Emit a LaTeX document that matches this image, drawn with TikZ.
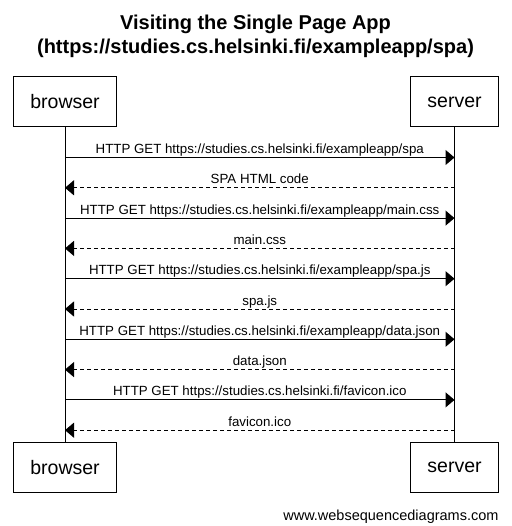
\documentclass[tikz,border=0pt]{standalone}
\usepackage{fontspec}
\setmainfont{Liberation Sans}
\usetikzlibrary{arrows.meta}

\begin{document}
\begin{tikzpicture}[x=1pt,y=-1pt,line width=1pt,
  actor/.style={draw,inner xsep=17pt,minimum height=50pt,font=\fontsize{19.5}{23}\selectfont},
  msg/.style={anchor=base,yshift=4pt,inner sep=0pt,font=\fontsize{13.3}{15}\selectfont},
  req/.style={-{Triangle[length=9pt,width=15pt]}},
  resp/.style={-{Triangle[length=9pt,width=15pt]},dash pattern=on 4pt off 3pt}]
\useasboundingbox (0,0) rectangle (511,526);
\node[anchor=base,font=\bfseries\fontsize{20}{24}\selectfont] (title) at (255.5,29.5) {Visiting the Single Page App};
\node[anchor=base,font=\bfseries\fontsize{20}{24}\selectfont] (url) at (255.5,53.5) {(https://studies.cs.helsinki.fi/exampleapp/spa)};
\node[actor] (browser) at (65,102) {browser};
\node[actor] (server) at (454.5,102) {server};
\node[actor] (browserB) at (65,467.5) {browser};
\node[actor] (serverB) at (454.5,467.5) {server};
\draw (browser) -- (browserB);
\draw (server) -- (serverB);
% points on the lifelines
\foreach \i in {1,...,10} {
  \path (browser.south) ++(0,{30+30.3*(\i-1)}) coordinate (b\i);
  \path (server.south) ++(0,{30+30.3*(\i-1)}) coordinate (s\i);
}
\draw[req] (b1) -- node[msg]{HTTP GET https://studies.cs.helsinki.fi/exampleapp/spa} (s1);
\draw[resp] (s2) -- node[msg]{SPA HTML code} (b2);
\draw[req] (b3) -- node[msg]{HTTP GET https://studies.cs.helsinki.fi/exampleapp/main.css} (s3);
\draw[resp] (s4) -- node[msg]{main.css} (b4);
\draw[req] (b5) -- node[msg]{HTTP GET https://studies.cs.helsinki.fi/exampleapp/spa.js} (s5);
\draw[resp] (s6) -- node[msg]{spa.js} (b6);
\draw[req] (b7) -- node[msg]{HTTP GET https://studies.cs.helsinki.fi/exampleapp/data.json} (s7);
\draw[resp] (s8) -- node[msg]{data.json} (b8);
\draw[req] (b9) -- node[msg]{HTTP GET https://studies.cs.helsinki.fi/favicon.ico} (s9);
\draw[resp] (s10) -- node[msg]{favicon.ico} (b10);
\node[anchor=base east,inner sep=0pt,font=\fontsize{14.5}{16}\selectfont] (credit) at (499,520) {www.websequencediagrams.com};
\end{tikzpicture}
\end{document}
